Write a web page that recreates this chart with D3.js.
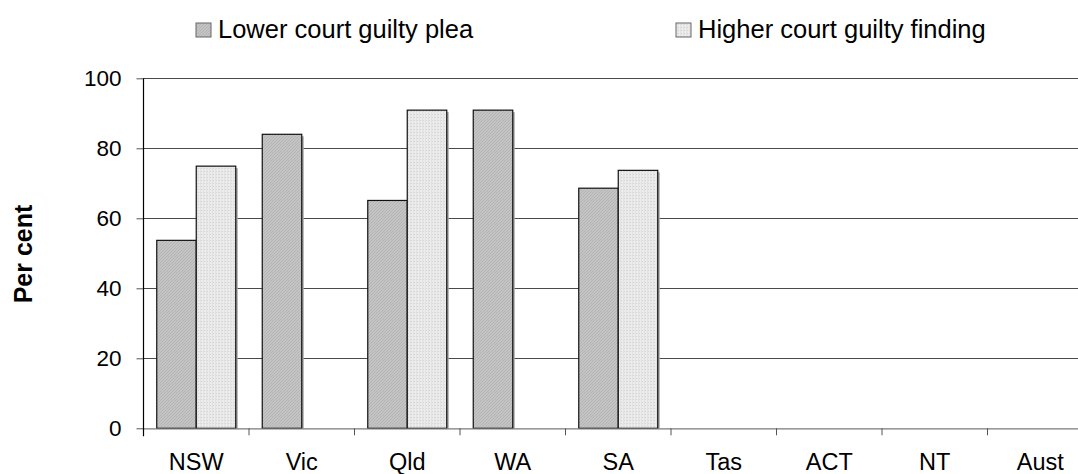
<!DOCTYPE html>
<html>
<head>
<meta charset="utf-8">
<script src="https://cdn.jsdelivr.net/npm/d3@7"></script>
<style>
  html, body { margin: 0; padding: 0; background: #fff; }
  svg { display: block; font-family: Arial, "Liberation Sans", sans-serif; }
</style>
</head>
<body>
<svg id="chart" width="1078" height="474"></svg>
<script>
// Jurisdictions along the x axis
const categories = ["NSW", "Vic", "Qld", "WA", "SA", "Tas", "ACT", "NT", "Aust"];
// Series names (legend order)
const seriesNames = ["Lower court guilty plea", "Higher court guilty finding"];
// Per cent values; null where no figure is reported
const lowerCourtPlea = [53.7, 84.0, 65.1, 90.9, 68.6, null, null, null, null];
const higherCourtFinding = [74.9, null, 90.9, null, 73.7, null, null, null, null];
// Y axis ticks
const yTicks = [0, 20, 40, 60, 80, 100];

const svg = d3.select("#chart");
const W = 1078, H = 474;

const plotLeft = 143.5, plotTop = 78.3, plotBottom = 428.3;
const bandW = 105.5;
const barW = 39.5;

const x = d3.scaleBand()
  .domain(categories)
  .range([plotLeft, plotLeft + bandW * categories.length])
  .paddingInner(0).paddingOuter(0);

const y = d3.scaleLinear().domain([0, 100]).range([plotBottom, plotTop]);

// Fill patterns
const defs = svg.append("defs");
const pLower = defs.append("pattern")
  .attr("id", "hatchLower").attr("patternUnits", "userSpaceOnUse")
  .attr("width", 3).attr("height", 3);
pLower.append("rect").attr("width", 3).attr("height", 3).attr("fill", "#c4c4c4");
pLower.append("path").attr("d", "M0,3 L3,0 M-1,1 L1,-1 M2,4 L4,2")
  .attr("stroke", "#adadad").attr("stroke-width", 0.7);

const pHigher = defs.append("pattern")
  .attr("id", "dotHigher").attr("patternUnits", "userSpaceOnUse")
  .attr("width", 3).attr("height", 3);
pHigher.append("rect").attr("width", 3).attr("height", 3).attr("fill", "#ececec");
pHigher.append("rect").attr("x", 0).attr("y", 0).attr("width", 1).attr("height", 1).attr("fill", "#d2d2d2");
pHigher.append("rect").attr("x", 2).attr("y", 0).attr("width", 1).attr("height", 3).attr("fill", "#e2e2e2");

const fills = ["url(#hatchLower)", "url(#dotHigher)"];

const clip = defs.append("clipPath").attr("id", "plotClip");
clip.append("rect").attr("x", 0).attr("y", 0).attr("width", W).attr("height", H);

const g = svg.append("g").attr("clip-path", "url(#plotClip)");

// Horizontal gridlines
g.selectAll("line.grid")
  .data(yTicks.filter(d => d > 0))
  .join("line")
  .attr("class", "grid")
  .attr("x1", plotLeft).attr("x2", W)
  .attr("y1", d => Math.round(y(d)) + 0.5).attr("y2", d => Math.round(y(d)) + 0.5)
  .attr("stroke", "#4a4a4a").attr("stroke-width", 1);

// Bars
const seriesData = [lowerCourtPlea, higherCourtFinding];
seriesData.forEach((vals, si) => {
  const data = categories.map((c, i) => ({ c, v: vals[i] })).filter(d => d.v != null);
  const bx = d => x(d.c) + x.bandwidth() / 2 + (si === 0 ? -barW : 0);
  // soft shadow on the right side
  g.selectAll(null).data(data).join("rect")
    .attr("x", d => bx(d) + 2).attr("y", d => y(d.v) + 2)
    .attr("width", barW).attr("height", d => plotBottom - y(d.v) - 2)
    .attr("fill", "#a8a8a8");
  g.selectAll(null).data(data).join("rect")
    .attr("x", bx).attr("y", d => y(d.v))
    .attr("width", barW).attr("height", d => plotBottom - y(d.v))
    .attr("fill", fills[si])
    .attr("stroke", "#111").attr("stroke-width", 1.2);
});

// X axis line with category boundary ticks
g.append("line")
  .attr("x1", plotLeft).attr("x2", W)
  .attr("y1", plotBottom + 0.5).attr("y2", plotBottom + 0.5)
  .attr("stroke", "#7a7a7a").attr("stroke-width", 1.2);
g.selectAll("line.xtick")
  .data(d3.range(categories.length + 1))
  .join("line")
  .attr("class", "xtick")
  .attr("x1", i => plotLeft + i * x.step()).attr("x2", i => plotLeft + i * x.step())
  .attr("y1", plotBottom).attr("y2", plotBottom + 7)
  .attr("stroke", "#555").attr("stroke-width", 1);

// X labels
svg.append("g").selectAll("text")
  .data(categories)
  .join("text")
  .attr("x", d => x(d) + x.bandwidth() / 2)
  .attr("y", 470)
  .attr("text-anchor", "middle")
  .attr("font-size", 23.5)
  .attr("fill", "#000")
  .text(d => d);

// Y axis
const yAxis = d3.axisLeft(y).tickValues(yTicks).tickSize(7).tickPadding(15);
const ya = svg.append("g")
  .attr("transform", `translate(${plotLeft},0)`)
  .call(yAxis);
ya.select(".domain").remove();
ya.selectAll(".tick line").attr("stroke", "#555");
ya.selectAll(".tick text").attr("font-size", 22.5).attr("font-family", "Arial, 'Liberation Sans', sans-serif").attr("fill", "#000");
svg.append("line")
  .attr("x1", plotLeft).attr("x2", plotLeft)
  .attr("y1", plotTop).attr("y2", plotBottom + 8)
  .attr("stroke", "#000").attr("stroke-width", 1.2);

// Y axis title
svg.append("text")
  .attr("transform", `translate(31.5,254) rotate(-90)`)
  .attr("text-anchor", "middle")
  .attr("font-size", 25)
  .attr("font-weight", "bold")
  .text("Per cent");

// Legend
const legendItems = [{ x: 196, name: seriesNames[0], fill: fills[0] }, { x: 676, name: seriesNames[1], fill: fills[1] }];
const lg = svg.append("g").selectAll("g").data(legendItems).join("g");
lg.append("rect")
  .attr("x", d => d.x).attr("y", 23)
  .attr("width", 15).attr("height", 14)
  .attr("fill", d => d.fill).attr("stroke", "#666").attr("stroke-width", 1);
lg.append("text")
  .attr("x", d => d.x + 22).attr("y", 37.5)
  .attr("font-size", 25.5)
  .text(d => d.name);
</script>
</body>
</html>
